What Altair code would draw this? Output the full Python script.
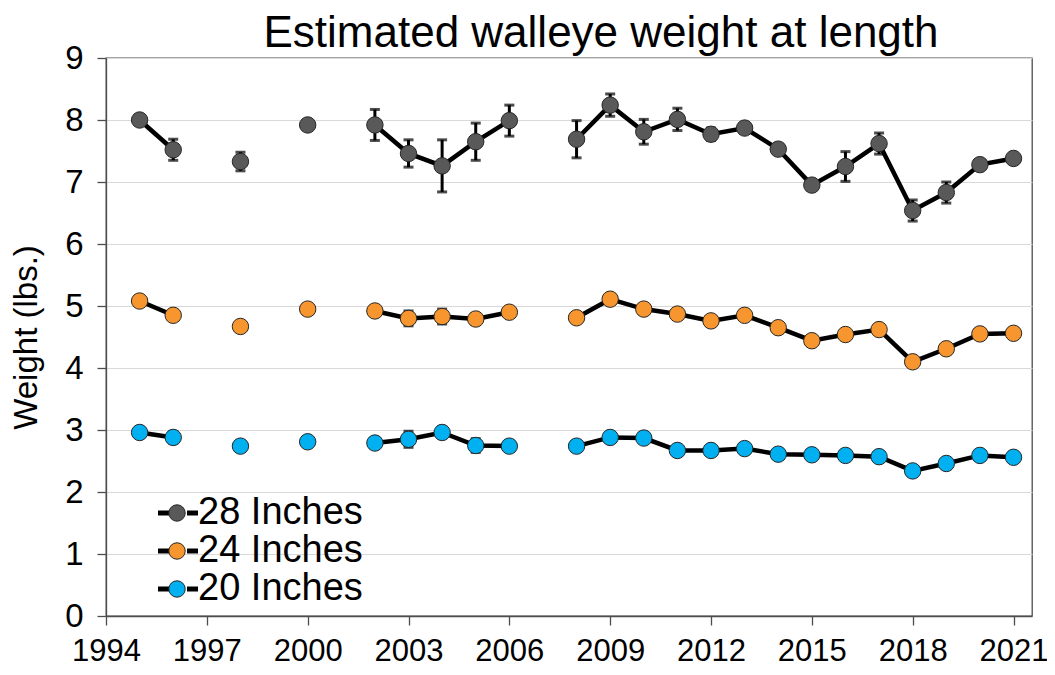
import altair as alt
import pandas as pd

years = [1995, 1996, 1998, 2000, 2002, 2003, 2004, 2005, 2006,
         2008, 2009, 2010, 2011, 2012, 2013, 2014, 2015, 2016, 2017, 2018, 2019, 2020, 2021]
series_names = ["28 Inches", "24 Inches", "20 Inches"]

w28 = [8.00, 7.52, 7.33, 7.92, 7.92, 7.46, 7.26, 7.65, 7.99,
       7.69, 8.24, 7.81, 8.01, 7.77, 7.87, 7.53, 6.95, 7.25, 7.62, 6.54, 6.83, 7.28, 7.38]
e28 = [0.05, 0.17, 0.15, 0.06, 0.25, 0.22, 0.42, 0.30, 0.25,
       0.30, 0.18, 0.20, 0.18, 0.10, 0.08, 0.06, 0.08, 0.24, 0.17, 0.17, 0.17, 0.06, 0.06]
w24 = [5.08, 4.85, 4.67, 4.95, 4.92, 4.80, 4.83, 4.79, 4.90,
       4.81, 5.11, 4.95, 4.87, 4.76, 4.85, 4.65, 4.44, 4.54, 4.62, 4.10, 4.31, 4.55, 4.56]
e24 = [0.05, 0.06, 0.05, 0.05, 0.06, 0.12, 0.12, 0.09, 0.05,
       0.05, 0.05, 0.05, 0.05, 0.05, 0.05, 0.05, 0.05, 0.05, 0.05, 0.05, 0.05, 0.05, 0.05]
w20 = [2.96, 2.88, 2.74, 2.81, 2.79, 2.85, 2.96, 2.75, 2.74,
       2.74, 2.88, 2.87, 2.67, 2.67, 2.70, 2.61, 2.60, 2.59, 2.57, 2.34, 2.46, 2.59, 2.56]
e20 = [0.04, 0.09, 0.04, 0.04, 0.05, 0.13, 0.09, 0.11, 0.05,
       0.04, 0.04, 0.04, 0.04, 0.04, 0.04, 0.04, 0.04, 0.04, 0.04, 0.04, 0.04, 0.04, 0.04]

colors = ["#595959", "#F7962F", "#00B0F0"]
x_ticks = list(range(1994, 2022, 3))
y_ticks = list(range(0, 10))

rows = []
for name, w, e in zip(series_names, [w28, w24, w20], [e28, e24, e20]):
    seg = 0
    prev = None
    for yr, v, err in zip(years, w, e):
        if prev is not None and yr - prev > 1:
            seg += 1
        prev = yr
        rows.append(dict(year=yr, series=name, weight=v, lo=v - err, hi=v + err,
                         seg=f"{name}-{seg}"))
df = pd.DataFrame(rows)

FONT = "Liberation Sans"
xscale = alt.Scale(domain=[1994, 2021.55], nice=False, zero=False)
yscale = alt.Scale(domain=[0, 9], nice=False)
xaxis = alt.Axis(values=x_ticks, format="d", title=None, grid=False, labelOverlap=False,
                 labelFlush=False, tickSize=9, labelPadding=11, labelFontSize=31)
yaxis = alt.Axis(values=y_ticks, format="d", title="Weight (lbs.)", grid=True, labelOverlap=False,
                 labelFlush=False, tickSize=9, labelPadding=14, labelFontSize=33,
                 titleFontSize=33, titlePadding=21, titleFontWeight="normal")

base = alt.Chart(df)

LEG_Y = 436
LEG_FS = 38

lines = base.transform_calculate(line_series="datum.series").mark_line(strokeWidth=4.5).encode(
    x=alt.X("year:Q", scale=xscale, axis=xaxis),
    y=alt.Y("weight:Q", scale=yscale, axis=yaxis),
    detail="seg:N",
    stroke=alt.Stroke("line_series:N",
                      scale=alt.Scale(domain=series_names, range=["black"] * 3),
                      legend=alt.Legend(title=None, orient="none", legendX=53, legendY=LEG_Y,
                                        symbolType="M -2 0 L -0.9 0 M 0.9 0 L 2 0",
                                        symbolSize=400, symbolStrokeWidth=5,
                                        symbolFillColor="transparent",
                                        labelOpacity=0, labelFontSize=LEG_FS, labelOffset=2,
                                        labelLimit=400, rowPadding=0, padding=0)),
)

errs = base.mark_errorbar(color="black", thickness=3,
                          ticks={"size": 10, "thickness": 3, "color": "black"}).encode(
    x=alt.X("year:Q", scale=xscale),
    y=alt.Y("lo:Q", scale=yscale, title="Weight (lbs.)"),
    y2="hi:Q",
)

points = base.mark_point(filled=True, size=270, stroke="#262626", strokeWidth=1, opacity=1).encode(
    x=alt.X("year:Q", scale=xscale),
    y=alt.Y("weight:Q", scale=yscale),
    fill=alt.Fill("series:N",
                  scale=alt.Scale(domain=series_names, range=colors),
                  legend=alt.Legend(title=None, orient="none", legendX=52, legendY=LEG_Y,
                                    symbolType="circle", symbolSize=270,
                                    symbolStrokeColor="#262626", symbolStrokeWidth=1,
                                    symbolOpacity=1, labelFontSize=LEG_FS, labelOffset=2,
                                    labelFont=FONT, labelColor="black", labelLimit=400,
                                    rowPadding=0, padding=0)),
)

chart = alt.layer(lines, errs, points).resolve_legend(
    stroke="independent", fill="independent"
).properties(
    width=926, height=558,
    title=alt.TitleParams("Estimated walleye weight at length", fontSize=44, font=FONT,
                          fontWeight="normal", anchor="middle", dx=32, dy=22, offset=8,
                          color="black"),
    autosize=alt.AutoSizeParams(type="none"),
    padding={"left": 98, "top": 50, "right": 15, "bottom": 51},
).configure_view(
    stroke="#4d4d4d", strokeWidth=1.3
).configure_axis(
    labelFont=FONT, titleFont=FONT, labelColor="black", titleColor="black",
    domainColor="#4d4d4d", tickColor="#4d4d4d", domainWidth=1.3, tickWidth=1.3,
    gridColor="#d9d9d9", gridWidth=1.2
).configure_legend(
    labelFont=FONT, labelColor="black"
)

chart.save("out.html", embed_options={"renderer": "svg", "actions": False})
